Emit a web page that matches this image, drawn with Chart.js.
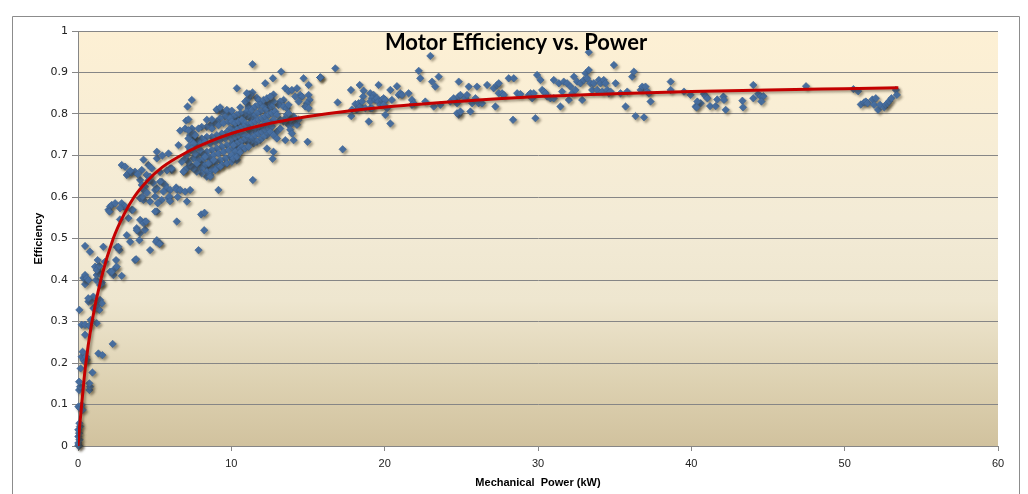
<!DOCTYPE html>
<html><head><meta charset="utf-8">
<script src="https://cdn.jsdelivr.net/npm/chart.js@4.4.1/dist/chart.umd.min.js"></script>
<style>html,body{margin:0;padding:0;background:#fff}#wrap{width:1028px;height:494px;position:relative}</style>
</head><body><div id="wrap"><canvas id="c"></canvas></div>
<script>
// ---- data ----
const chartTitle = 'Motor Efficiency vs. Power';
const xAxisTitle = 'Mechanical  Power (kW)';
const yAxisTitle = 'Efficiency';
const xTickValues = [0, 10, 20, 30, 40, 50, 60];
const yTickValues = [0, 0.1, 0.2, 0.3, 0.4, 0.5, 0.6, 0.7, 0.8, 0.9, 1];
const yTickLabels = ['0', '0.1', '0.2', '0.3', '0.4', '0.5', '0.6', '0.7', '0.8', '0.9', '1'];

// trend curve (red)
const curvePower = [0, 0.1, 0.26, 0.48, 0.89, 1.52, 2.3, 3, 3.66, 4.5, 5.5, 7, 8.5, 10, 12, 14.5, 17, 20.4, 25, 30, 35, 40, 45, 50, 53.5];
const curveEff   = [0, 0.045, 0.108, 0.19, 0.295, 0.405, 0.5, 0.558, 0.6, 0.638, 0.672, 0.706, 0.732, 0.753, 0.773, 0.791, 0.804, 0.818, 0.831, 0.842, 0.849, 0.854, 0.858, 0.861, 0.863];

// measured points [power kW, efficiency]
const lowPowerPoints = [
[0.07,0.0],[0.02,0.002],[0.02,0.007],[0.09,0.015],[0.02,0.023],[0.07,0.031],[0.02,0.039],[0.13,0.047],[0.09,0.055],
[0.02,0.095],[0.13,0.091],[0.24,0.099],[0.3,0.087],[0.07,0.135],[0.13,0.143],[0.07,0.155],[0.74,0.135],[0.78,0.143],
[0.74,0.151],[0.94,0.177],[0.17,0.187],[0.24,0.215],[0.3,0.227],[0.35,0.207],[0.46,0.203],[0.57,0.207],[0.52,0.215],
[1.33,0.223],[1.59,0.219],[2.26,0.246],[0.46,0.268],[0.24,0.292],[0.46,0.292],[0.74,0.290],[0.83,0.304],[1.22,0.296],
[0.09,0.328],[1.0,0.332],[1.11,0.332],[1.26,0.340],[1.39,0.328],[1.44,0.352],[1.55,0.344],[0.68,0.348],[0.85,0.350],
[1.0,0.360],[0.67,0.356],[0.46,0.390],[0.35,0.405],[0.46,0.412],[0.57,0.404],[0.68,0.400],[1.18,0.400],[1.22,0.412],
[1.44,0.416],[1.55,0.394],[1.44,0.388],[1.5,0.390],[1.11,0.432],[1.33,0.432],[1.22,0.424],[1.39,0.434],[1.28,0.448],
[1.76,0.444],[0.46,0.482],[0.78,0.468],[1.65,0.480],[2.09,0.420],[2.31,0.412],[2.42,0.428],[2.2,0.420],[2.85,0.410],
[2.48,0.448],[2.52,0.432],[2.53,0.479],[2.7,0.472],[2.63,0.480],[1.98,0.569],[2.09,0.577],[2.05,0.565],[2.2,0.581],
[2.42,0.585],[2.85,0.585],[2.96,0.578],[3.07,0.577],[2.74,0.573],[2.74,0.546],[3.29,0.549],[2.85,0.677],[3.07,0.673]
];
const midPowerPoints = [
[3.18,0.653],[3.29,0.657],[3.5,0.659],[3.72,0.661],[3.4,0.663],[4.16,0.665],[4.59,0.677],[4.81,0.669],[4.48,0.653],
[4.7,0.649],[4.05,0.641],[4.16,0.629],[4.37,0.625],[4.27,0.617],[4.05,0.597],[4.27,0.593],[4.7,0.589],[5.03,0.617],
[5.14,0.621],[5.46,0.637],[5.68,0.629],[5.79,0.621],[6.01,0.617],[5.57,0.613],[5.03,0.601],[5.46,0.593],[5.9,0.597],
[6.01,0.669],[6.12,0.665],[5.14,0.565],[6.44,0.541],[3.5,0.569],[3.57,0.569],[4.05,0.545],[4.37,0.541],[3.83,0.525],
[4.05,0.513],[4.37,0.521],[3.18,0.508],[3.4,0.492],[3.72,0.448],[3.79,0.450],[4.7,0.472],[5.14,0.496],[5.35,0.488],
[5.09,0.492],[5.31,0.487],[4.0,0.496],[4.27,0.537],[4.44,0.541],[3.83,0.520],[5.35,0.637],[6.4,0.623],[6.44,0.618],
[5.96,0.601],[6.66,0.617],[6.99,0.613],[7.31,0.617],[7.1,0.589],[4.27,0.690],[5.14,0.693],[5.14,0.709],[5.5,0.700],
[5.9,0.705],[5.8,0.664],[6.1,0.669],[6.9,0.661],[4.2,0.601],[4.5,0.610],[4.9,0.634],[5.2,0.585],[6.0,0.590],[6.5,0.600],
[4.6,0.640],[3.9,0.655],[5.35,0.660],[6.55,0.725],[6.66,0.760],[6.99,0.765],[7.05,0.784],[7.2,0.787],[7.14,0.818],
[7.42,0.834],[5.03,0.565],[7.86,0.472],[8.03,0.558],[8.25,0.562],[8.23,0.520],[9.16,0.617],[11.4,0.641],
[7.1,0.669],[7.42,0.673],[7.75,0.677],[8.07,0.681],[8.4,0.673],[8.73,0.685],[9.05,0.669],[9.38,0.677],[9.71,0.681]
];
const clusterPoints = [
[9.05,0.810],[9.38,0.806],[9.71,0.808],[9.92,0.802],[9.6,0.794],[9.27,0.790],[9.05,0.782],[8.84,0.778],[8.62,0.773],
[8.4,0.769],[8.73,0.765],[9.16,0.773],[9.49,0.778],[9.82,0.782],[10.14,0.786],[10.36,0.790],[10.47,0.778],[10.25,0.769],
[9.92,0.765],[9.71,0.757],[9.38,0.753],[9.05,0.749],[8.73,0.745],[8.4,0.745],[8.07,0.741],[7.75,0.737],[7.53,0.745],
[7.31,0.749],[7.2,0.741],[7.42,0.733],[7.64,0.725],[7.97,0.729],[8.29,0.733],[8.62,0.729],[8.95,0.733],[9.27,0.737],
[9.6,0.741],[9.92,0.745],[10.25,0.749],[10.47,0.753],[10.36,0.737],[10.03,0.729],[9.71,0.725],[9.38,0.721],[9.05,0.717],
[8.73,0.713],[8.4,0.709],[8.07,0.705],[7.75,0.701],[7.53,0.693],[7.86,0.689],[8.18,0.693],[8.51,0.697],[8.84,0.701],
[9.16,0.705],[9.49,0.709],[9.82,0.713],[10.14,0.717],[10.47,0.717],[10.36,0.701],[9.92,0.697],[9.6,0.693],[9.27,0.689],
[8.95,0.685],[8.62,0.681],[8.29,0.677],[8.07,0.669],[8.4,0.661],[8.73,0.665],[9.05,0.673],[9.38,0.677],[9.71,0.681],
[10.03,0.685],[10.36,0.689],[8.4,0.649],[8.62,0.653],[8.07,0.657],[7.75,0.661],[7.53,0.669],[7.31,0.677],[7.2,0.685],
[6.99,0.693],[6.77,0.685],[7.09,0.701],[7.31,0.713],[6.99,0.665],[6.88,0.661],[7.75,0.681],[7.2,0.721],[7.42,0.765],
[7.53,0.753],[9.05,0.811],[9.27,0.816],[9.71,0.810],[10.03,0.808],[10.58,0.816],[8.4,0.786],[8.73,0.787],[8.07,0.769],
[7.86,0.765],[7.64,0.749],[7.2,0.761],[7.53,0.729],[7.42,0.717],[7.64,0.705],[7.97,0.713],[8.29,0.697],[8.51,0.681],
[8.84,0.689],[9.27,0.673],[8.95,0.665],[8.62,0.649]
];
const upperClusterPoints = [
[11.38,0.920],[13.25,0.902],[12.71,0.886],[12.21,0.874],[14.71,0.886],[15.04,0.870],[15.8,0.888],[10.36,0.862],
[11.16,0.848],[11.38,0.852],[12.75,0.847],[11.66,0.839],[11.77,0.834],[11.01,0.826],[11.12,0.818],[13.52,0.862],
[13.73,0.855],[13.95,0.858],[14.28,0.862],[14.49,0.846],[14.17,0.842],[14.6,0.842],[15.04,0.846],[15.1,0.834],
[14.93,0.826],[14.82,0.818],[15.04,0.814],[14.39,0.830],[13.41,0.834],[13.19,0.830],[13.08,0.822],[13.41,0.818],
[13.62,0.814],[13.73,0.822],[12.32,0.822],[12.54,0.826],[12.75,0.830],[12.64,0.818],[12.43,0.814],[13.73,0.774],
[13.95,0.778],[14.17,0.782],[14.28,0.774],[14.39,0.786],[14.06,0.794],[13.84,0.786],[13.41,0.782],[13.52,0.790],
[13.19,0.786],[13.62,0.798],[13.73,0.802],[12.97,0.757],[13.84,0.762],[13.95,0.753],[13.19,0.765],[13.52,0.737],
[14.97,0.733],[12.32,0.717],[12.75,0.709],[12.69,0.692],
[11.12,0.814],[11.01,0.806],[11.23,0.802],[11.34,0.810],[11.56,0.818],[11.77,0.822],[11.99,0.826],[12.1,0.818],
[12.21,0.810],[11.88,0.806],[11.67,0.802],[11.45,0.794],[11.23,0.790],[11.01,0.794],[10.8,0.798],[10.58,0.802],
[10.36,0.798],[10.14,0.794],[9.92,0.790],[10.03,0.782],[10.25,0.778],[10.47,0.782],[10.69,0.786],[10.9,0.778],
[11.12,0.774],[11.34,0.778],[11.56,0.782],[11.77,0.786],[11.99,0.790],[12.21,0.794],[12.43,0.798],[12.64,0.802],
[12.86,0.806],[12.97,0.798],[12.75,0.786],[12.54,0.778],[12.32,0.782],[12.1,0.774],[11.88,0.770],[11.67,0.766],
[11.45,0.762],[11.23,0.757],[11.01,0.766],[10.8,0.770],[10.58,0.766],[10.36,0.762],[10.14,0.757],[9.92,0.753],
[10.03,0.741],[10.25,0.745],[10.47,0.749],[10.69,0.753],[10.9,0.749],[11.12,0.745],[11.34,0.741],[11.56,0.749],
[11.77,0.753],[11.99,0.757],[12.21,0.762],[12.43,0.766],[12.64,0.770],[12.32,0.749],[12.1,0.745],[11.88,0.737],
[11.67,0.733],[11.45,0.729],[11.23,0.732],[11.01,0.735],[10.8,0.737],[10.58,0.733],[10.36,0.729],[10.14,0.725],
[10.69,0.721],[10.47,0.713],[10.25,0.709],[10.03,0.701],[10.14,0.693],[10.36,0.697],[10.58,0.708],[10.9,0.717],
[11.12,0.721],[12.54,0.757],[12.75,0.749],[12.97,0.741],[12.1,0.834],[12.32,0.838],[12.54,0.842],[10.9,0.830],
[11.12,0.838],[11.23,0.846],[11.01,0.850],[14.06,0.737],[15.8,0.888]
];
const highPowerPoints = [
[16.78,0.910],[15.80,0.888],[16.93,0.828],[17.80,0.858],[18.37,0.870],[18.63,0.856],[18.59,0.842],[18.09,0.824],
[18.3,0.826],[18.41,0.818],[18.19,0.810],[17.87,0.811],[17.82,0.795],[18.52,0.830],[18.74,0.814],[19.06,0.814],
[18.96,0.782],[17.26,0.715],
[19.06,0.850],[19.28,0.846],[19.17,0.838],[19.06,0.830],[19.39,0.834],[19.5,0.838],[19.6,0.830],[19.17,0.814],
[19.71,0.822],[19.82,0.834],[19.93,0.838],[20.04,0.834],[19.93,0.822],[20.15,0.814],[20.04,0.798],[20.37,0.777],
[19.6,0.870],[20.37,0.858],[20.47,0.834],[20.8,0.867],[20.91,0.846],[21.02,0.850],[21.13,0.846],[21.56,0.850],
[21.78,0.834],[21.89,0.826],[21.78,0.822],[22.22,0.904],[22.32,0.886],[22.65,0.830],[22.98,0.940],[23.09,0.878],
[23.3,0.866],[23.2,0.818],[23.52,0.890],[23.63,0.822],[24.28,0.830],[24.61,0.834],[24.72,0.826],[24.5,0.838],
[24.83,0.878],[24.83,0.842],[24.94,0.846],[24.83,0.798],[24.72,0.802],[24.94,0.806],[25.26,0.838],[25.37,0.846],
[25.48,0.866],[25.59,0.806],[25.7,0.826],[25.92,0.838],[26.02,0.866],[26.13,0.826],[26.35,0.826],[26.68,0.870],
[27.11,0.862],[27.22,0.818],[27.33,0.870],[27.44,0.874],[27.44,0.850],[27.66,0.850],[27.77,0.846],[28.09,0.886],
[28.42,0.886],[28.37,0.786],[28.64,0.850],[28.85,0.848],[29.4,0.846],[29.51,0.850],[29.62,0.838],[29.72,0.850],
[29.83,0.790],[29.94,0.894],[30.16,0.882],[30.27,0.858],[30.38,0.854],[30.49,0.850],[30.6,0.842],[30.81,0.838],
[31.03,0.838],[31.03,0.882],[31.36,0.874],[31.46,0.818],[31.57,0.854],[31.68,0.878],[31.9,0.874],[32.01,0.834],
[32.12,0.866],[32.23,0.850],[32.34,0.890],[32.44,0.858],[32.55,0.878],[32.77,0.874],[32.88,0.834],[32.99,0.882],
[33.1,0.898],[33.2,0.886],[33.31,0.906],[33.31,0.949],[33.42,0.874],[33.53,0.858],[33.64,0.874],[33.86,0.858],
[33.97,0.882],[34.08,0.874],[34.19,0.854],[34.29,0.882],[34.4,0.874],[34.51,0.858],[34.62,0.850],[34.73,0.854],
[34.95,0.918],[35.06,0.874],[35.38,0.850],[35.71,0.818],[35.82,0.854],[36.14,0.890],[36.25,0.902],[36.36,0.795],
[36.69,0.858],[36.8,0.866],[36.91,0.792],[37.01,0.866],[37.12,0.854],[37.23,0.850],[37.34,0.830],[38.65,0.878],
[38.65,0.858],[39.52,0.854],[39.95,0.846],[40.28,0.818],[40.61,0.826],
[40.39,0.830],[40.34,0.816],[40.82,0.848],[40.93,0.843],[41.04,0.838],[41.22,0.819],[41.59,0.819],[41.69,0.835],
[42.09,0.842],[42.13,0.834],[42.24,0.810],[43.33,0.832],[43.37,0.816],[44.04,0.870],[44.04,0.838],[44.35,0.848],
[44.52,0.843],[44.7,0.843],[44.57,0.830],[47.48,0.867],[50.57,0.860],[50.88,0.855],[51.05,0.823],[51.27,0.828],
[51.38,0.830],[51.49,0.826],[51.81,0.835],[52.03,0.838],[51.92,0.822],[52.18,0.810],[52.31,0.822],[52.58,0.816],
[52.68,0.822],[52.79,0.826],[52.9,0.831],[53.05,0.838],[53.34,0.858],[53.4,0.846]
];

const measuredPoints = [].concat(lowPowerPoints, midPowerPoints, clusterPoints, upperClusterPoints, highPowerPoints);

// ---- plugins ----
const backdrop = {
  id: 'backdrop',
  beforeDraw(chart) {
    const {ctx, chartArea: a} = chart;
    ctx.save();
    ctx.fillStyle = '#ffffff';
    ctx.fillRect(0, 0, chart.width, chart.height);
    const g = ctx.createLinearGradient(0, a.top, 0, a.bottom);
    g.addColorStop(0, '#fdf0d4');
    g.addColorStop(0.45, '#f3ebd6');
    g.addColorStop(0.65, '#eee6cf');
    g.addColorStop(0.85, '#ddd1b1');
    g.addColorStop(1, '#d1c29e');
    ctx.fillStyle = g;
    ctx.fillRect(a.left, a.top, a.right - a.left, a.bottom - a.top);
    ctx.strokeStyle = '#8c8c8c';
    ctx.lineWidth = 1;
    ctx.beginPath();
    ctx.moveTo(12.5, chart.height);
    ctx.lineTo(12.5, 16.5);
    ctx.lineTo(1019.5, 16.5);
    ctx.lineTo(1019.5, chart.height);
    ctx.stroke();
    ctx.restore();
  }
};
const shadows = {
  id: 'shadows',
  beforeDatasetDraw(chart) {
    const ctx = chart.ctx;
    ctx.save();
    ctx.shadowColor = 'rgba(60,50,30,0.45)';
    ctx.shadowBlur = 2.5;
    ctx.shadowOffsetX = 2;
    ctx.shadowOffsetY = 2;
  },
  afterDatasetDraw(chart) { chart.ctx.restore(); }
};
const overlayTitle = {
  id: 'overlayTitle',
  afterDraw(chart) {
    const ctx = chart.ctx;
    ctx.save();
    ctx.font = 'bold 22px Lato, "Open Sans", sans-serif';
    ctx.fillStyle = '#000';
    ctx.textAlign = 'center';
    ctx.textBaseline = 'alphabetic';
    ctx.fillText(chartTitle, 516, 50);
    ctx.restore();
  }
};

new Chart(document.getElementById('c'), {
  type: 'scatter',
  data: {
    datasets: [
      {
        type: 'line',
        label: 'Trend',
        data: curvePower.map((x, i) => ({x, y: curveEff[i]})),
        borderColor: '#c40000',
        borderWidth: 3,
        pointRadius: 0,
        cubicInterpolationMode: 'monotone',
        fill: false,
        order: 0
      },
      {
        type: 'scatter',
        label: 'Measured',
        data: measuredPoints.map(p => ({x: p[0], y: p[1]})),
        pointStyle: 'rectRot',
        pointRadius: 3.7,
        backgroundColor: '#4871a5',
        borderColor: '#3a5f8f',
        borderWidth: 0.6,
        clip: 8,
        order: 1
      }
    ]
  },
  options: {
    responsive: true,
    maintainAspectRatio: false,
    animation: false,
    layout: {padding: {top: 31, right: 30, bottom: 0, left: 0}},
    plugins: {legend: {display: false}, tooltip: {enabled: false}, title: {display: false}},
    scales: {
      x: {
        type: 'linear',
        position: 'bottom',
        min: xTickValues[0],
        max: xTickValues[xTickValues.length - 1],
        afterBuildTicks(s) { s.ticks = xTickValues.map(v => ({value: v})); },
        afterFit(s) { s.height = 48; },
        ticks: {color: '#222', font: {family: '"Liberation Sans", Arial, sans-serif', size: 11}, padding: 6},
        grid: {drawOnChartArea: false, tickLength: 5, color: '#868686'},
        border: {color: '#868686'},
        title: {display: true, text: xAxisTitle, color: '#000',
          font: {family: '"Liberation Sans Narrow", "Liberation Sans", Arial, sans-serif', size: 11, weight: 'bold'},
          padding: {top: 0, bottom: 4}}
      },
      y: {
        type: 'linear',
        min: yTickValues[0],
        max: yTickValues[yTickValues.length - 1],
        afterBuildTicks(s) { s.ticks = yTickValues.map(v => ({value: v})); },
        afterFit(s) { s.width = 78; },
        ticks: {color: '#222', font: {family: '"DejaVu Sans", Verdana, sans-serif', size: 11}, padding: 4,
          callback: (v) => { const i = yTickValues.indexOf(v); return i >= 0 ? yTickLabels[i] : String(v); }},
        grid: {color: '#868686', tickLength: 6},
        border: {color: '#868686'},
        title: {display: true, text: yAxisTitle, color: '#000',
          font: {family: '"Liberation Sans Narrow", "Liberation Sans", Arial, sans-serif', size: 11, weight: 'bold'},
          padding: {top: 32, bottom: 0}}
      }
    }
  },
  plugins: [backdrop, shadows, overlayTitle]
});
</script>
</body></html>
